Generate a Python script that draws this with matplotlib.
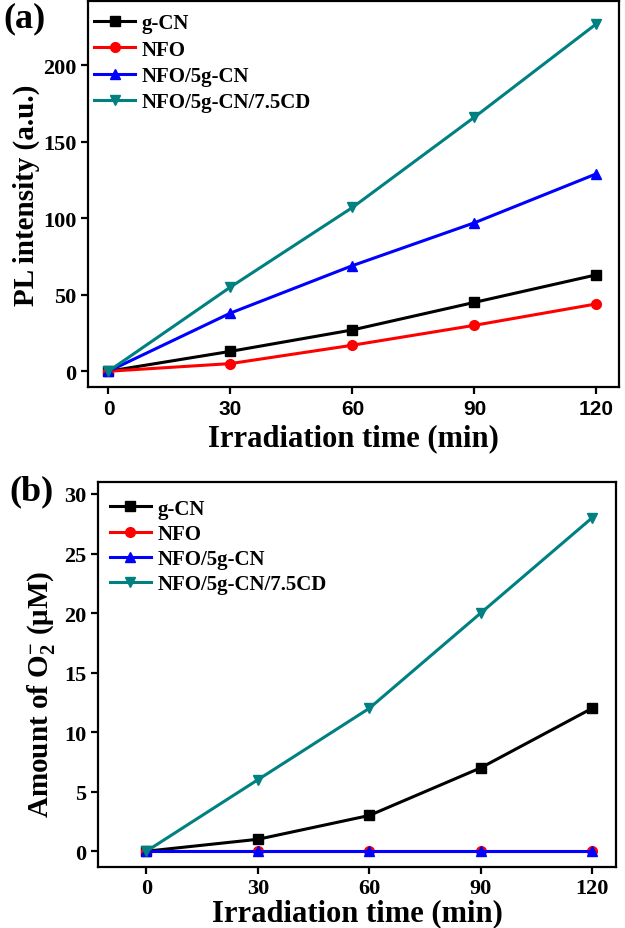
import matplotlib
matplotlib.use("Agg")
import matplotlib.pyplot as plt

time = [0, 30, 60, 90, 120]
labels = ["g-CN", "NFO", "NFO/5g-CN", "NFO/5g-CN/7.5CD"]
colors = ["black", "red", "blue", "#008080"]
markers = ["s", "o", "^", "v"]

pl_gcn = [0, 13, 27, 45, 63]
pl_nfo = [0, 5, 17, 30, 44]
pl_nfo_gcn = [0, 38, 69, 97, 129]
pl_cd = [0, 55, 107, 166, 227]

o2_gcn = [0, 1, 3, 7, 12]
o2_nfo = [0, 0, 0, 0, 0]
o2_nfo_gcn = [0, 0, 0, 0, 0]
o2_cd = [0, 6, 12, 20, 28]

plt.rcParams['font.family'] = 'Liberation Serif'
plt.rcParams['font.weight'] = 'bold'
plt.rcParams['axes.labelweight'] = 'bold'
plt.rcParams['mathtext.fontset'] = 'custom'
plt.rcParams['mathtext.rm'] = 'Liberation Serif:bold'
plt.rcParams['mathtext.it'] = 'Liberation Serif:bold'
plt.rcParams['mathtext.bf'] = 'Liberation Serif:bold'


def style_axes(ax):
    for s in ax.spines.values():
        s.set_linewidth(1.6)
    ax.tick_params(width=1.6, length=5, labelsize=16)
    for t in ax.get_yticklabels():
        t.set_fontweight('bold')


fig = plt.figure(figsize=(6.25, 9.29), dpi=100)

ax1 = fig.add_axes([0.141, 0.582, 0.849, 0.416])
for y, lab, c, m in zip([pl_gcn, pl_nfo, pl_nfo_gcn, pl_cd], labels, colors, markers):
    ax1.plot(time, y, color=c, marker=m, lw=2.2, ms=7, label=lab)
ax1.set_xlim(-5, 125.5)
ax1.set_ylim(-10.5, 242)
ax1.set_xticks(time)
ax1.set_yticks([0, 50, 100, 150, 200])
style_axes(ax1)
for t in ax1.get_xticklabels():
    t.set_fontfamily('Liberation Sans')
    t.set_fontweight('bold')
    t.set_fontsize(15)
ax1.set_xlabel("Irradiation time (min)", fontsize=22, labelpad=4)
ax1.set_ylabel("PL intensity (a.u.)", fontsize=21, labelpad=2)
ax1.legend(loc='upper left', bbox_to_anchor=(-0.013, 1.0), frameon=False,
           handlelength=2.0, labelspacing=0.3, borderaxespad=0.2,
           handletextpad=0.3, prop={'weight': 'bold', 'size': 15})
fig.text(0.005, 0.998, "(a)", fontsize=26, fontweight='bold', va='top')

ax2 = fig.add_axes([0.157, 0.066, 0.829, 0.414])
for y, lab, c, m in zip([o2_gcn, o2_nfo, o2_nfo_gcn, o2_cd], labels, colors, markers):
    ax2.plot(time, y, color=c, marker=m, lw=2.2, ms=7, label=lab)
ax2.set_xlim(-13, 126.5)
ax2.set_ylim(-1.3, 31)
ax2.set_xticks(time)
ax2.set_yticks([0, 5, 10, 15, 20, 25, 30])
style_axes(ax2)
for t in ax2.get_xticklabels():
    t.set_fontweight('bold')
ax2.set_xlabel("Irradiation time (min)", fontsize=22, labelpad=0)
ax2.set_ylabel("Amount of O$_2^{-}$ (μM)", fontsize=21)
ax2.yaxis.set_label_coords(-0.08, 0.45)
ax2.legend(loc='upper left', bbox_to_anchor=(-0.01, 1.0), frameon=False,
           handlelength=2.0, labelspacing=0.25, borderaxespad=0.4,
           handletextpad=0.3, prop={'weight': 'bold', 'size': 15})
fig.text(0.015, 0.488, "(b)", fontsize=26, fontweight='bold', va='top')

fig.savefig("out.png", dpi=100)
